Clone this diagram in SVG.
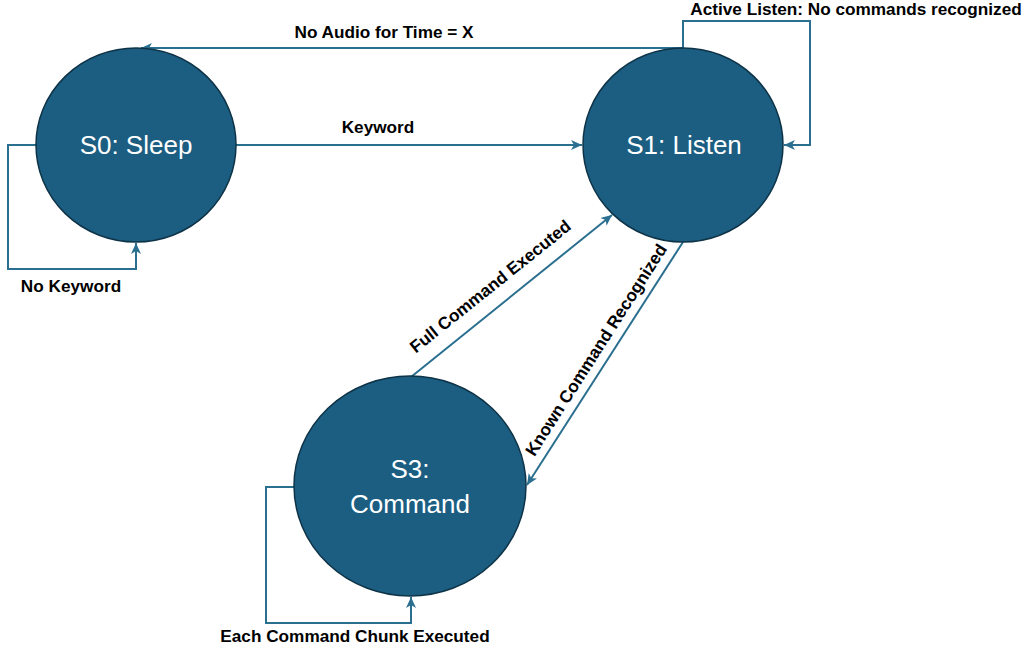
<svg xmlns="http://www.w3.org/2000/svg" width="1027" height="651" viewBox="0 0 1027 651">
<style>
.node{fill:#1b5e82;stroke:#0e3347;stroke-width:1.5}
.ntext{font-family:"Liberation Sans",Arial,sans-serif;font-size:26px;fill:#ffffff;text-anchor:middle}
.edge{fill:none;stroke:#2a6f8f;stroke-width:2}
.lbl{font-family:"Liberation Sans",Arial,sans-serif;font-size:17.2px;font-weight:bold;fill:#000000;text-anchor:middle}
</style>
<defs>
<marker id="arr" markerUnits="userSpaceOnUse" markerWidth="12" markerHeight="10" refX="11" refY="5" orient="auto">
<path d="M0,0 L11,5 L0,10 L3,5 Z" fill="#2a6f8f"/>
</marker>
</defs>
<rect width="1027" height="651" fill="#ffffff"/>
<g id="connectors">
<path class="edge" d="M683,48 L141,48" marker-end="url(#arr)"/>
<path class="edge" d="M236,145 L582,145" marker-end="url(#arr)"/>
<path class="edge" d="M36,145 L8,145 L8,269 L136,269 L136,243" marker-end="url(#arr)"/>
<path class="edge" d="M683,48 L683,21 L810,21 L810,145 L784,145" marker-end="url(#arr)"/>
<path class="edge" d="M411,377 L612,215" marker-end="url(#arr)"/>
<path class="edge" d="M683,242 L527,485" marker-end="url(#arr)"/>
<path class="edge" d="M294,487 L266,487 L266,623 L411,623 L411,597" marker-end="url(#arr)"/>
</g>
<g id="labels">
<text class="lbl" x="384" y="38">No Audio for Time = X</text>
<text class="lbl" x="378" y="133">Keyword</text>
<text class="lbl" x="71" y="292">No Keyword</text>
<text class="lbl" x="856" y="15">Active Listen: No commands recognized</text>
<text class="lbl" x="355" y="642">Each Command Chunk Executed</text>
<text class="lbl" transform="translate(494,291) rotate(-38.7)">Full Command Executed</text>
<text class="lbl" transform="translate(601,353) rotate(-57.4)">Known Command Recognized</text>
</g>
<g id="S0">
<ellipse class="node" cx="136" cy="145" rx="100" ry="97"/>
<text class="ntext" x="136" y="154">S0: Sleep</text>
</g>
<g id="S1">
<ellipse class="node" cx="683" cy="145" rx="100" ry="97"/>
<text class="ntext" x="684" y="154">S1: Listen</text>
</g>
<g id="S3">
<ellipse class="node" cx="410" cy="486" rx="116" ry="110"/>
<text class="ntext" x="410" y="478">S3:</text>
<text class="ntext" x="410" y="513">Command</text>
</g>
</svg>
